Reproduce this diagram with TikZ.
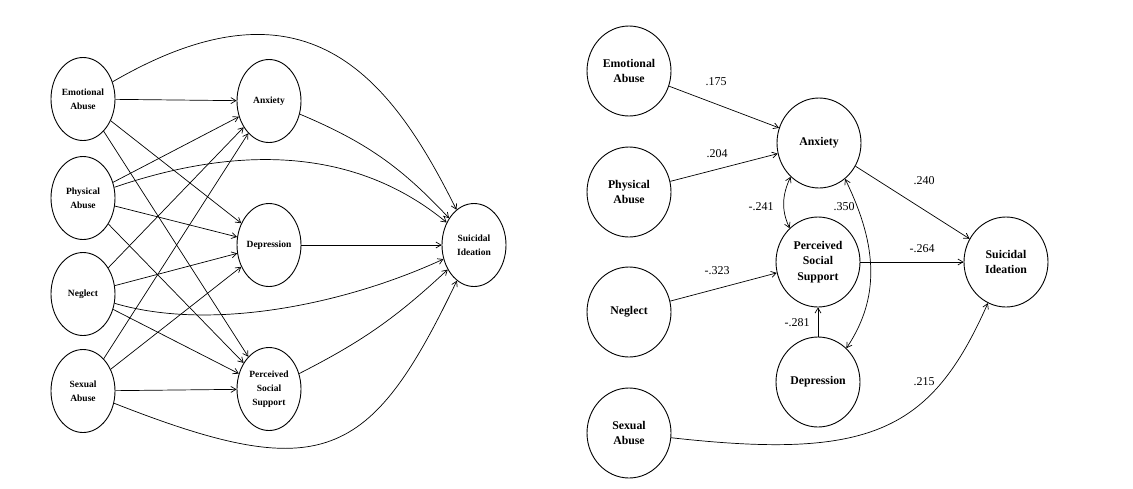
\documentclass[tikz,border=0pt]{standalone}
\usepackage{fontspec}
\setmainfont{Liberation Serif}
\usetikzlibrary{shapes.geometric,arrows.meta}
\newcommand{\leftfont}{\fontsize{9.5}{14}\selectfont\bfseries}
\newcommand{\rightfont}{\fontsize{11.8}{15.5}\selectfont\bfseries}
\newcommand{\coeffont}{\fontsize{12}{14}\selectfont}

\begin{document}
\begin{tikzpicture}[x=1pt,y=-1pt,
    >={Straight Barb[length=5pt,width=6pt]},
    lvar/.style={ellipse, draw, line width=0.9pt, minimum width=64pt, minimum height=83pt, inner sep=0pt, align=center, font=\leftfont},
    rvar/.style={ellipse, draw, line width=0.9pt, minimum width=84pt, minimum height=90pt, inner sep=0pt, align=center, font=\rightfont},
    effect/.style={->, line width=0.7pt},
    coef/.style={font=\coeffont, inner sep=0pt}]
  \useasboundingbox (0,0) rectangle (1133,488);

  % hypothesised model
  \node[lvar] (ea) at (83,99) {Emotional\\Abuse};
  \node[lvar] (pa) at (83,198) {Physical\\Abuse};
  \node[lvar] (ng) at (83,294) {Neglect};
  \node[lvar] (sa) at (83,391) {Sexual\\Abuse};
  \node[lvar] (anx) at (269,101) {Anxiety};
  \node[lvar] (dep) at (269,245) {Depression};
  \node[lvar] (pss) at (269,389) {Perceived\\Social\\Support};
  \node[lvar] (si) at (474,245) {Suicidal\\Ideation};

  \draw[effect] (ea) -- (anx);
  \draw[effect] (ea) -- (dep);
  \draw[effect] (ea) -- (pss);
  \draw[effect] (pa) -- (anx);
  \draw[effect] (pa) -- (dep);
  \draw[effect] (pa) -- (pss);
  \draw[effect] (ng) -- (anx);
  \draw[effect] (ng) -- (dep);
  \draw[effect] (ng) -- (pss);
  \draw[effect] (sa) -- (anx);
  \draw[effect] (sa) -- (dep);
  \draw[effect] (sa) -- (pss);

  \draw[effect] (anx) to[bend left=12] (si);
  \draw[effect] (dep) -- (si);
  \draw[effect] (pss) to[bend right=8] (si);

  \draw[effect] (ea) .. controls (305,-30) and (389,74) .. (si);
  \draw[effect] (pa) .. controls (238,145) and (355,147) .. (si);
  \draw[effect] (ng) .. controls (212,332) and (346,304) .. (si);
  \draw[effect] (sa) .. controls (322,485) and (370,462) .. (si);

  % estimated model
  \node[rvar] (rea) at (629,71) {Emotional\\Abuse};
  \node[rvar] (rpa) at (629,192) {Physical\\Abuse};
  \node[rvar] (rng) at (629,312) {Neglect};
  \node[rvar] (rsa) at (629,433) {Sexual\\Abuse};
  \node[rvar] (ranx) at (819,143) {Anxiety};
  \node[rvar] (rpss) at (818,262) {Perceived\\Social\\Support};
  \node[rvar] (rdep) at (818,382) {Depression};
  \node[rvar] (rsi) at (1006,262) {Suicidal\\Ideation};

  \draw[effect] (rea) -- (ranx);
  \draw[effect] (rpa) -- (ranx);
  \draw[effect] (rng) -- (rpss);
  \draw[effect] (rdep) -- (rpss);
  \draw[effect] (ranx) -- (rsi);
  \draw[effect] (rpss) -- (rsi);
  \draw[effect] (rsa) .. controls (870,460) and (931,432) .. (rsi);
  \draw[effect, <->] (ranx.-130) to[out=-115, in=115] (rpss.130);
  \draw[effect, <->] (ranx.-54) to[out=-64, in=56] (rdep.50);

  \node[coef] (c175) at (716,82) {.175};
  \node[coef] (c204) at (717,154) {.204};
  \node[coef] (c241) at (761,207) {-.241};
  \node[coef] (c350) at (844,207) {.350};
  \node[coef] (c240) at (924,181) {.240};
  \node[coef] (c264) at (922,249) {-.264};
  \node[coef] (c323) at (717,271) {-.323};
  \node[coef] (c281) at (797,323) {-.281};
  \node[coef] (c215) at (924,382) {.215};
\end{tikzpicture}
\end{document}
